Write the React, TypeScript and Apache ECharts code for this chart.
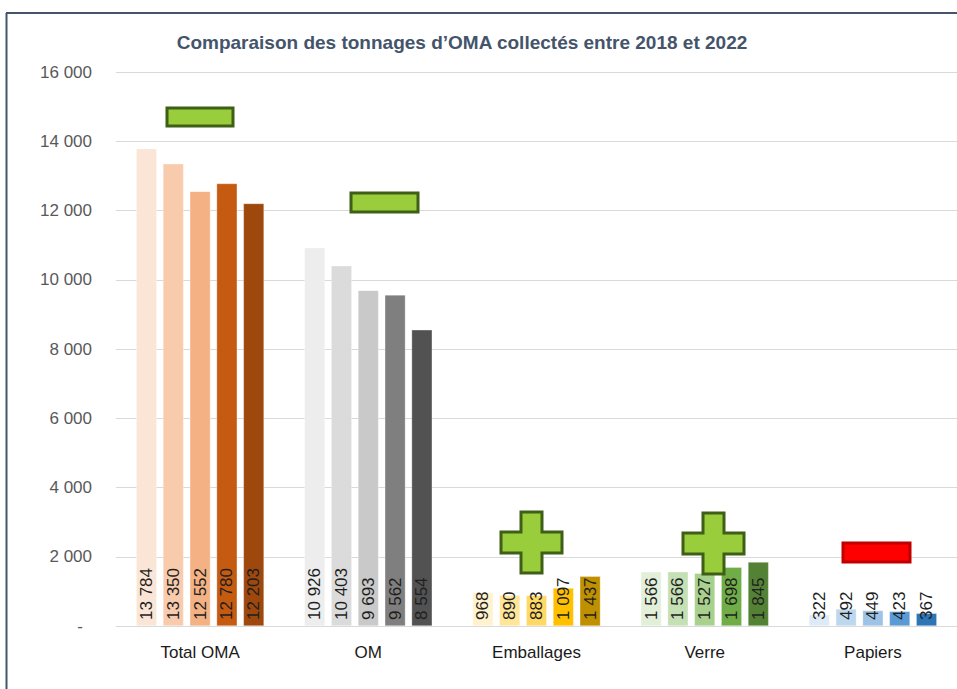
import React, { useEffect, useRef } from "react";
import * as echarts from "echarts";

const categories = ["Total OMA", "OM", "Emballages", "Verre", "Papiers"];
const years = ["2018", "2019", "2020", "2021", "2022"];
const v2018 = [13784, 10926, 968, 1566, 322];
const v2019 = [13350, 10403, 890, 1566, 492];
const v2020 = [12552, 9693, 883, 1527, 449];
const v2021 = [12780, 9562, 1097, 1698, 423];
const v2022 = [12203, 8554, 1437, 1845, 367];
const yearValues = [v2018, v2019, v2020, v2021, v2022];

// shades per category, indexed by year
const shadesTotal = ["#fbe5d6", "#f8cbad", "#f4b183", "#c55a11", "#9e480e"];
const shadesOM = ["#ededed", "#dbdbdb", "#c9c9c9", "#7f7f7f", "#525252"];
const shadesEmb = ["#fff2cc", "#ffe699", "#ffd966", "#ffc000", "#bf9000"];
const shadesVerre = ["#e2f0d9", "#c5e0b4", "#a9d18e", "#70ad47", "#548235"];
const shadesPap = ["#deebf7", "#bdd7ee", "#9dc3e6", "#5b9bd5", "#2e75b6"];
const shades = [shadesTotal, shadesOM, shadesEmb, shadesVerre, shadesPap];

const FONT = "'Liberation Sans', Arial, sans-serif";

const fmt = (n: number) => String(Math.round(n)).replace(/\B(?=(\d{3})+(?!\d))/g, " ");

function plusPoints(x: number, y: number, s: number, t: number) {
  const a = (s - t) / 2;
  const b = (s + t) / 2;
  return [
    [x + a, y],
    [x + b, y],
    [x + b, y + a],
    [x + s, y + a],
    [x + s, y + b],
    [x + b, y + b],
    [x + b, y + s],
    [x + a, y + s],
    [x + a, y + b],
    [x, y + b],
    [x, y + a],
    [x + a, y + a],
  ];
}

export default function App() {
  const ref = useRef<HTMLDivElement>(null);

  useEffect(() => {
    document.body.style.margin = "0";
    if (!ref.current) return;
    const chart = echarts.init(ref.current, undefined, { renderer: "svg" });

    const series = years.map((yr, yi) => ({
      name: yr,
      type: "bar",
      barGap: "30%",
      barCategoryGap: "24%",
      data: yearValues[yi].map((v, ci) => ({
        value: v,
        itemStyle: { color: shades[ci][yi], borderColor: "rgba(255,255,255,0.6)", borderWidth: 0.5 },
      })),
      label: {
        show: true,
        position: "insideBottom",
        rotate: 90,
        align: "left",
        verticalAlign: "middle",
        distance: 6,
        fontFamily: FONT,
        fontSize: 17,
        color: "#1f1f1f",
        formatter: (p: any) => fmt(p.value),
      },
    }));

    const green = { fill: "#9acd3c", stroke: "#3f5f17", lineWidth: 3 };

    chart.setOption({
      animation: false,
      backgroundColor: "#ffffff",
      title: {
        text: "Comparaison des tonnages d\u2019OMA collectés entre 2018 et 2022",
        left: 457,
        top: 28,
        textAlign: "center",
        textStyle: { fontFamily: FONT, fontSize: 19, fontWeight: "bold", color: "#44546a" },
      },
      grid: { left: 116, right: 0, top: 72, bottom: 63, containLabel: false },
      xAxis: {
        type: "category",
        data: categories,
        axisTick: { show: false },
        axisLine: { lineStyle: { color: "#d9d9d9", width: 1 } },
        axisLabel: { fontFamily: FONT, fontSize: 17, color: "#1a1a1a", margin: 18 },
      },
      yAxis: {
        type: "value",
        min: 0,
        max: 16000,
        interval: 2000,
        axisLine: { show: false },
        axisTick: { show: false },
        splitLine: { lineStyle: { color: "#d9d9d9", width: 1 } },
        axisLabel: {
          fontFamily: FONT,
          fontSize: 17,
          color: "#595959",
          margin: 24,
          formatter: (v: number) => (v === 0 ? "{d|-}" : fmt(v)),
          rich: { d: { fontFamily: FONT, fontSize: 17, color: "#595959", padding: [0, 9, 0, 0] } },
        },
      },
      series,
      graphic: [
        { type: "line", shape: { x1: 6, y1: 13, x2: 957, y2: 13 }, style: { stroke: "#44546a", lineWidth: 2 }, z: 100 },
        { type: "line", shape: { x1: 6.5, y1: 13, x2: 6.5, y2: 689 }, style: { stroke: "#44546a", lineWidth: 2 }, z: 100 },
        { type: "rect", shape: { x: 167, y: 108, width: 66, height: 18 }, style: green, z: 100 },
        { type: "rect", shape: { x: 351, y: 193, width: 67, height: 19 }, style: green, z: 100 },
        { type: "polygon", shape: { points: plusPoints(501, 512, 61, 21) }, style: green, z: 100 },
        { type: "polygon", shape: { points: plusPoints(683, 513, 61, 21) }, style: green, z: 100 },
        { type: "rect", shape: { x: 843, y: 543, width: 67, height: 19 }, style: { fill: "#ff0000", stroke: "#c00000", lineWidth: 3 }, z: 100 },
      ],
    });

    return () => chart.dispose();
  }, []);

  return <div ref={ref} style={{ width: 957, height: 689 }} />;
}
